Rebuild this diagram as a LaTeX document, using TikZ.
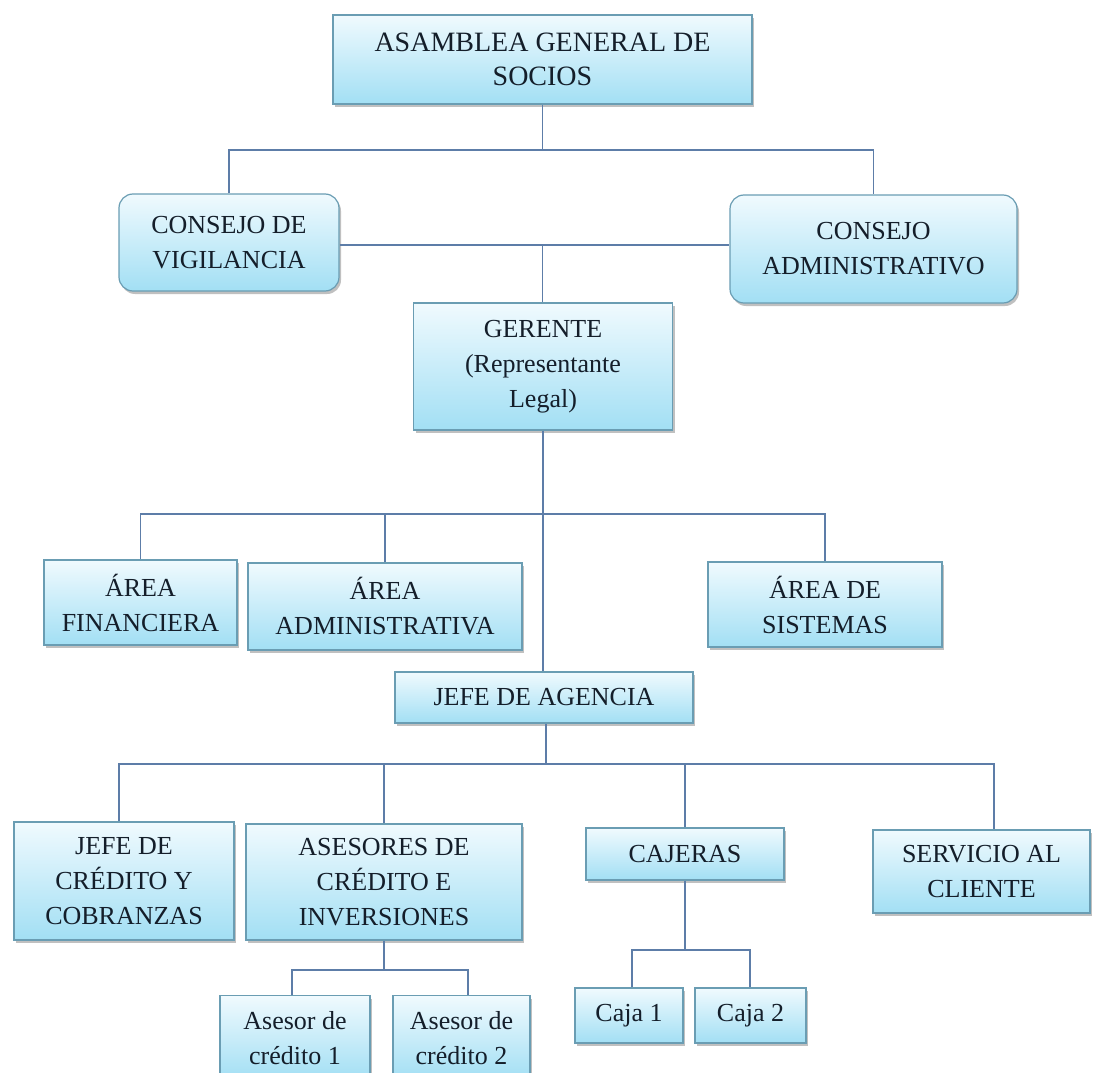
\documentclass[tikz,border=0pt]{standalone}
\usepackage{fontspec}
\setmainfont{Liberation Serif}
\usetikzlibrary{shadows}
\definecolor{boxline}{HTML}{6A9DB3}
\definecolor{boxtop}{HTML}{F0FAFE}
\definecolor{boxbot}{HTML}{A2DFF4}
\definecolor{wirecol}{HTML}{5D7DA8}
\definecolor{inkcol}{HTML}{141E2A}
\tikzset{
  orgnode/.style = {align=center, inner sep=2pt, text centered, text=inkcol, font=\fontsize{26}{35}\selectfont},
  obox/.style = {orgnode, rectangle, draw=boxline, line width=1.2pt, top color=boxtop, bottom color=boxbot,
                 drop shadow={shadow xshift=2pt, shadow yshift=-3pt, opacity=.45, fill=black!55}},
  rbox/.style = {obox, rounded corners=14pt},
  wire/.style = {draw=wirecol, line width=1.3pt},
}
\begin{document}
\begin{tikzpicture}[x=1pt, y=-1pt]
\useasboundingbox (0,0) rectangle (1101,1073);

\node [obox, minimum width=419pt, minimum height=89pt, font=\fontsize{28}{34}\selectfont] (A) at (542.5,59.5) {ASAMBLEA GENERAL DE\\SOCIOS};
\node [rbox, minimum width=220pt, minimum height=97pt] (V) at (229,242.5) {CONSEJO DE\\VIGILANCIA};
\node [rbox, minimum width=287pt, minimum height=108pt] (C) at (873.5,249) {CONSEJO\\ADMINISTRATIVO};
\node [obox, minimum width=259pt, minimum height=127pt] (G) at (543,366.5) {GERENTE\\(Representante\\Legal)};

\node [obox, minimum width=193pt, minimum height=85pt] (F) at (140.5,602.5) {ÁREA\\FINANCIERA};
\node [obox, minimum width=274pt, minimum height=87pt] (D) at (385,606.5) {ÁREA\\ADMINISTRATIVA};
\node [obox, minimum width=234pt, minimum height=85pt] (S) at (825,604.5) {ÁREA DE\\SISTEMAS};
\node [obox, minimum width=298pt, minimum height=51pt] (J) at (544,697.5) {JEFE DE AGENCIA};

\node [obox, minimum width=220pt, minimum height=118pt] (K) at (124,881) {JEFE DE\\CRÉDITO Y\\COBRANZAS};
\node [obox, minimum width=276pt, minimum height=116pt] (R) at (384,882) {ASESORES DE\\CRÉDITO E\\INVERSIONES};
\node [obox, minimum width=198pt, minimum height=52pt] (Q) at (685,854) {CAJERAS};
\node [obox, minimum width=217pt, minimum height=83pt] (L) at (981.5,871.5) {SERVICIO AL\\CLIENTE};

\node [obox, minimum width=150pt, minimum height=84pt, anchor=north] (R1) at (295,995) {Asesor de\\crédito 1};
\node [obox, minimum width=137pt, minimum height=84pt, anchor=north] (R2) at (461.5,995) {Asesor de\\crédito 2};
\node [obox, minimum width=108pt, minimum height=55pt] (Q1) at (629,1015.5) {Caja 1};
\node [obox, minimum width=111pt, minimum height=55pt] (Q2) at (750.5,1015.5) {Caja 2};

\coordinate (b1) at (542.5,150);
\coordinate (b2) at (542.5,245);
\coordinate (b3) at (543,514);
\coordinate (b4) at (546,764);
\coordinate (b4l) at (119,764);
\coordinate (b4r) at (994,764);
\coordinate (b5l) at (292,970);
\coordinate (b5r) at (468,970);
\coordinate (b6l) at (632,950);
\coordinate (b6r) at (750,950);

\draw [wire] (A.south) -- (b1);
\draw [wire] (V.north) |- (b1) -| (C.north);
\draw [wire] (V.east |- b2) -- (C.west |- b2);
\draw [wire] (b2) -- (b2 |- G.north);
\draw [wire] (G.south) -- (G.south |- J.north);
\draw [wire] (F.north) |- (b3) -| (S.north);
\draw [wire] (D.north) -- (D.north |- b3);
\draw [wire] (b4 |- J.south) -- (b4);
\draw [wire] (b4l |- K.north) -- (b4l) -- (b4r) -- (b4r |- L.north);
\draw [wire] (R.north) -- (R.north |- b4);
\draw [wire] (Q.north) -- (Q.north |- b4);
\draw [wire] (R.south) -- (R.south |- b5l);
\draw [wire] (b5l |- R1.north) -- (b5l) -- (b5r) -- (b5r |- R2.north);
\draw [wire] (Q.south) -- (Q.south |- b6l);
\draw [wire] (b6l |- Q1.north) -- (b6l) -- (b6r) -- (b6r |- Q2.north);
\end{tikzpicture}
\end{document}
